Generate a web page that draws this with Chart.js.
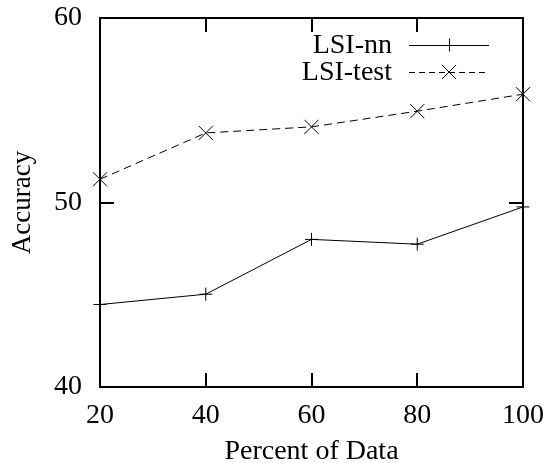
<!DOCTYPE html>
<html>
<head>
<meta charset="utf-8">
<script src="https://cdn.jsdelivr.net/npm/chart.js@4/dist/chart.umd.min.js"></script>
<style>
  html, body { margin: 0; padding: 0; background: #fff; }
  #wrap { width: 544px; height: 463px; position: relative; }
</style>
</head>
<body>
<div id="wrap"><canvas id="c" width="544" height="463"></canvas></div>
<script>
const percents = [20, 40, 60, 80, 100];
const lsiNN = [44.47, 45.03, 48.0, 47.74, 49.76];
const lsiTest = [51.26, 53.77, 54.1, 54.95, 55.87];
const xTicks = [20, 40, 60, 80, 100];
const yTicks = [40, 50, 60];
const seriesNames = ['LSI-nn', 'LSI-test'];
const xTitle = 'Percent of Data';
const yTitle = 'Accuracy';

const FONT = "'Liberation Serif', 'Times New Roman', serif";

function toPoints(xs, ys) { return xs.map((x, i) => ({ x: x, y: ys[i] })); }
function noPad(s) { s.paddingLeft = 0; s.paddingRight = 0; s.paddingTop = 0; s.paddingBottom = 0; }

const frame = {
  id: 'frame',
  afterDatasetsDraw(chart) {
    const ctx = chart.ctx;
    const a = chart.chartArea;
    const xs = chart.scales.x, ys = chart.scales.y;
    ctx.save();
    ctx.strokeStyle = '#000';
    ctx.lineWidth = 2;
    ctx.lineCap = 'butt';
    const tl = 14;
    ctx.beginPath();
    xTicks.forEach(v => {
      const px = Math.round(xs.getPixelForValue(v));
      ctx.moveTo(px, a.bottom); ctx.lineTo(px, a.bottom - tl);
      ctx.moveTo(px, a.top); ctx.lineTo(px, a.top + tl);
    });
    yTicks.forEach(v => {
      const py = Math.round(ys.getPixelForValue(v));
      ctx.moveTo(a.left, py); ctx.lineTo(a.left + tl, py);
      ctx.moveTo(a.right, py); ctx.lineTo(a.right - tl, py);
    });
    ctx.stroke();
    ctx.strokeRect(a.left, a.top, a.right - a.left, a.bottom - a.top);

    // legend
    ctx.fillStyle = '#000';
    ctx.font = "28px " + FONT;
    ctx.textAlign = 'right';
    ctx.textBaseline = 'middle';
    const rows = [45, 72];
    chart.data.datasets.forEach((ds, i) => {
      const y = rows[i];
      ctx.fillText(ds.label, 392, y + 1);
      ctx.save();
      ctx.lineWidth = 1;
      ctx.setLineDash(ds.borderDash ? [6, 4] : []);
      ctx.beginPath();
      ctx.moveTo(409, y + 0.5); ctx.lineTo(489, y + 0.5);
      ctx.stroke();
      ctx.setLineDash([]);
      ctx.beginPath();
      const cx = 449;
      if (ds.pointStyle === 'cross') {
        const r = ds.pointRadius;
        ctx.moveTo(cx - r, y + 0.5); ctx.lineTo(cx + r, y + 0.5);
        ctx.moveTo(cx + 0.5, y - r); ctx.lineTo(cx + 0.5, y + r);
      } else {
        const r = ds.pointRadius * Math.SQRT1_2;
        ctx.moveTo(cx - r, y - r); ctx.lineTo(cx + r, y + r);
        ctx.moveTo(cx - r, y + r); ctx.lineTo(cx + r, y - r);
      }
      ctx.stroke();
      ctx.restore();
    });
    ctx.restore();
  }
};

new Chart(document.getElementById('c'), {
  type: 'line',
  data: {
    datasets: [
      {
        label: seriesNames[0],
        data: toPoints(percents, lsiNN),
        borderColor: '#000',
        backgroundColor: '#000',
        borderWidth: 1,
        pointStyle: 'cross',
        pointRadius: 6.5,
        pointBorderWidth: 1,
        pointBorderColor: '#000',
        tension: 0,
        fill: false,
        clip: false
      },
      {
        label: seriesNames[1],
        data: toPoints(percents, lsiTest),
        borderColor: '#000',
        backgroundColor: '#000',
        borderWidth: 1,
        borderDash: [8, 5],
        pointStyle: 'crossRot',
        pointRadius: 10,
        pointBorderWidth: 1,
        pointBorderColor: '#000',
        tension: 0,
        fill: false,
        clip: false
      }
    ]
  },
  options: {
    responsive: false,
    animation: false,
    devicePixelRatio: 1,
    layout: { padding: { top: 18, right: 21, left: 0, bottom: 0 } },
    plugins: { legend: { display: false }, tooltip: { enabled: false } },
    scales: {
      x: {
        type: 'linear',
        min: 20, max: 100,
        afterBuildTicks(s) { s.ticks = xTicks.map(v => ({ value: v })); },
        afterFit(s) { s.height = 76; noPad(s); },
        grid: { display: false, drawTicks: false },
        border: { display: false },
        ticks: { color: '#000', padding: 12, font: { family: FONT, size: 28 }, maxRotation: 0 },
        title: { display: true, text: xTitle, color: '#000', font: { family: FONT, size: 28, lineHeight: 1 }, padding: { top: 0, bottom: -3 } }
      },
      y: {
        type: 'linear',
        min: 40, max: 60,
        afterBuildTicks(s) { s.ticks = yTicks.map(v => ({ value: v })); },
        afterFit(s) { s.width = 100; noPad(s); },
        grid: { display: false, drawTicks: false },
        border: { display: false },
        ticks: { color: '#000', padding: 18, font: { family: FONT, size: 28 } },
        title: { display: true, text: yTitle, color: '#000', font: { family: FONT, size: 27, lineHeight: 1.2 }, padding: { top: 7, bottom: 0 } }
      }
    }
  },
  plugins: [frame]
});
</script>
</body>
</html>
